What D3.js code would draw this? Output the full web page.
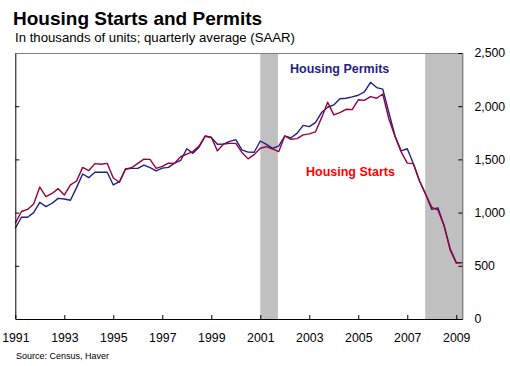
<!DOCTYPE html>
<html><head><meta charset="utf-8">
<script src="https://cdn.jsdelivr.net/npm/d3@7"></script>
<style>html,body{margin:0;padding:0;background:#fff;}svg{display:block;font-family:"Liberation Sans",Arial,sans-serif;}</style>
</head><body>
<svg id="c" width="510" height="366"></svg>
<script>
// Quarterly data, 1991 Q1 .. 2009 Q2 (thousands of units, SAAR)
const startYear = 1991;
const housingStarts = [
  900,1010,1030,1080, 1240,1150,1180,1225, 1165,1260,1297,1425, 1395,1460,1455,1463,
  1325,1285,1410,1422, 1463,1502,1500,1416, 1435,1465,1463,1525, 1550,1573,1625,1720,
  1708,1580,1645,1651, 1651,1565,1505,1545, 1605,1620,1598,1573, 1720,1689,1695,1730,
  1740,1758,1890,2037, 1918,1939,1971,1968, 2060,2055,2090,2075, 2115,1880,1715,1570,
  1465,1460,1295,1170, 1050,1025,880,650, 527,530
];
const housingPermits = [
  853,956,956,1000, 1097,1056,1088,1134, 1128,1116,1235,1363, 1328,1379,1379,1379,
  1260,1290,1410,1416, 1416,1447,1422,1392, 1418,1425,1465,1490, 1600,1557,1615,1718,
  1706,1642,1644,1670, 1686,1590,1568,1567, 1673,1642,1605,1625, 1720,1703,1745,1820,
  1808,1845,1940,1990, 2012,2070,2075,2088, 2103,2135,2225,2175, 2160,1940,1720,1580,
  1600,1460,1300,1175, 1030,1045,880,660, 530,530
];
const recessionStart = [2001.0, 2007.73];
const recessionEnd = [2001.72, 2009.25];
const xTickYears = [1991,1993,1995,1997,1999,2001,2003,2005,2007,2009];
const yTicks = [0,500,1000,1500,2000,2500];
const seriesNames = ["Housing Permits","Housing Starts"];

const svg = d3.select("#c");
const L = 15.3, R = 462.4, T = 53, B = 319;
const x = d3.scaleLinear().domain([startYear, startYear + (housingStarts.length - 1) / 4]).range([L, R]);
const y = d3.scaleLinear().domain([0, 2500]).range([B, T]);
const yearOf = i => startYear + i / 4;

// title
svg.append("text").attr("x", 13).attr("y", 25).attr("font-size", 19).attr("font-weight", "bold")
  .attr("fill", "#000").text("Housing Starts and Permits");
svg.append("text").attr("x", 15).attr("y", 42).attr("font-size", 13.2)
  .attr("fill", "#000").text("In thousands of units; quarterly average (SAAR)");

// recession bands
svg.selectAll("rect.rec").data(recessionStart).enter().append("rect")
  .attr("x", (d) => x(d)).attr("y", T)
  .attr("width", (d, i) => x(recessionEnd[i]) - x(d)).attr("height", B - T)
  .attr("fill", "#c0c0c0");

// frame (top/right gray)
svg.append("line").attr("x1", L).attr("x2", R).attr("y1", T + 0.5).attr("y2", T + 0.5).attr("stroke", "#808080");
svg.append("line").attr("x1", R).attr("x2", R).attr("y1", T).attr("y2", B).attr("stroke", "#808080");

// lines
const line = d3.line().x((d, i) => x(yearOf(i))).y(d => y(d));
svg.append("path").datum(housingPermits).attr("d", line).attr("fill", "none")
  .attr("stroke", "#1f1f88").attr("stroke-width", 1.4).attr("stroke-linejoin", "round");
svg.append("path").datum(housingStarts).attr("d", line).attr("fill", "none")
  .attr("stroke", "#99003a").attr("stroke-width", 1.4).attr("stroke-linejoin", "round");

// bottom axis
const xAxis = d3.axisBottom(x).tickValues(xTickYears).tickFormat(d3.format("d")).tickSizeInner(-4).tickSizeOuter(0).tickPadding(14);
const gx = svg.append("g").attr("transform", `translate(0,${B})`).call(xAxis);
gx.select(".domain").attr("stroke", "#000");
gx.selectAll(".tick line").attr("stroke", "#000");
gx.selectAll("text").attr("font-size", 12.3).attr("fill", "#000").attr("font-family", "Liberation Sans, Arial, sans-serif");

// left axis (no labels)
const gl = svg.append("g").attr("transform", `translate(${L},0)`)
  .call(d3.axisLeft(y).tickValues(yTicks.slice(1, -1)).tickSizeInner(-4).tickSizeOuter(0).tickFormat(""));
gl.select(".domain").attr("stroke", "#000");
gl.selectAll(".tick line").attr("stroke", "#000");

// right axis with labels
const gr = svg.append("g").attr("transform", `translate(${R},0)`)
  .call(d3.axisRight(y).tickValues(yTicks).tickSizeInner(-4).tickSizeOuter(0).tickPadding(12).tickFormat(d3.format(",")));
gr.select(".domain").attr("stroke", "#808080");
gr.selectAll(".tick line").attr("stroke", "#000");
gr.selectAll(".tick text").attr("font-size", 12.3).attr("fill", "#000").attr("x", 12).attr("font-family", "Liberation Sans, Arial, sans-serif");

// series labels
svg.append("text").attr("x", 290).attr("y", 73).attr("font-size", 12.5).attr("font-weight", "bold")
  .attr("fill", "#1f1f88").text(seriesNames[0]);
svg.append("text").attr("x", 306).attr("y", 176).attr("font-size", 12.5).attr("font-weight", "bold")
  .attr("fill", "#ff0000").text(seriesNames[1]);

// source
svg.append("text").attr("x", 16).attr("y", 359).attr("font-size", 9).attr("fill", "#000")
  .text("Source: Census, Haver");
</script>
</body></html>
